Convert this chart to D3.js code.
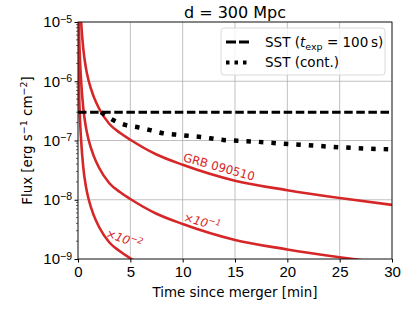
<!DOCTYPE html>
<html>
<head>
<meta charset="utf-8">
<script src="https://cdn.jsdelivr.net/npm/d3@7"></script>
<style>
  body { margin: 0; background: #fff; }
  svg { font-family: "DejaVu Sans", sans-serif; }
</style>
</head>
<body>
<div class="chart"></div>
<script>

// GRB 090510 light curve (time in min, flux in erg/s/cm2)
var grbTime = [0.01, 0.02, 0.05, 0.1, 0.2, 0.3, 0.5, 0.75, 1, 1.5, 2, 3, 4, 5, 7.5, 10, 15, 20, 25, 30];
var grbFlux = [4.5e-3, 1.3e-3, 2.5e-4, 7.2e-5, 2.1e-5, 1.0e-5, 3.6e-6, 1.7e-6, 1.05e-6, 5.5e-7, 3.5e-7,
               1.9e-7, 1.35e-7, 1.03e-7, 5.8e-8, 3.9e-8, 2.1e-8, 1.45e-8, 1.07e-8, 8.2e-9];

// the same burst scaled down, as labelled on the plot
var scaleFactors = [1, 0.1, 0.01];
var curveLabels = ["GRB 090510", "\u00d710", "\u00d710"];
var labelExps = ["", "\u22121", "\u22122"];

// SST sensitivity
var sstExposure = 3e-7;
var sstContTime = [2.2, 3.3, 4.5, 5.8, 6.8, 8.1, 9.3, 10.5, 11.7, 13.6, 15.2, 17.2, 19, 21.2, 25, 28.6, 30];
var sstContFlux = [3.0e-7, 2.24e-7, 1.83e-7, 1.66e-7, 1.51e-7, 1.33e-7, 1.26e-7, 1.2e-7, 1.15e-7,
                   1.03e-7, 9.9e-8, 9.5e-8, 9.0e-8, 8.5e-8, 7.7e-8, 7.2e-8, 7.1e-8];

var xTicks = [0, 5, 10, 15, 20, 25, 30];
var yTickExps = [-9, -8, -7, -6, -5];

var margin = { top: 22, right: 23, bottom: 53, left: 78 };
var width = 415 - margin.left - margin.right;
var height = 312 - margin.top - margin.bottom;

var svg = d3.select(".chart").append("svg")
    .attr("width", 415)
    .attr("height", 312);

var g = svg.append("g")
    .attr("transform", "translate(" + margin.left + "," + margin.top + ")");

var x = d3.scaleLinear().domain([0, 30]).range([0, width]);
var y = d3.scaleLog().domain([1e-9, 1e-5]).range([height, 0]);

// grid
g.selectAll(".xgrid").data(xTicks).enter().append("line")
    .attr("x1", function(d) { return x(d); })
    .attr("x2", function(d) { return x(d); })
    .attr("y1", 0).attr("y2", height)
    .attr("stroke", "#b0b0b0").attr("stroke-width", 0.8);

g.selectAll(".ygrid").data(yTickExps).enter().append("line")
    .attr("x1", 0).attr("x2", width)
    .attr("y1", function(d) { return y(Math.pow(10, d)); })
    .attr("y2", function(d) { return y(Math.pow(10, d)); })
    .attr("stroke", "#b0b0b0").attr("stroke-width", 0.8);

// clip
svg.append("clipPath").attr("id", "clip")
    .append("rect").attr("width", width).attr("height", height);

var plot = g.append("g").attr("clip-path", "url(#clip)");

var line = d3.line()
    .x(function(d) { return x(d[0]); })
    .y(function(d) { return y(d[1]); })
    .curve(d3.curveMonotoneX);

scaleFactors.forEach(function(s) {
    var pts = grbTime.map(function(t, i) { return [t, grbFlux[i] * s]; });
    plot.append("path")
        .attr("d", line(pts))
        .attr("fill", "none")
        .attr("stroke", "#d62728")
        .attr("stroke-width", 2.6);
});

plot.append("line")
    .attr("x1", x(0)).attr("x2", x(30))
    .attr("y1", y(sstExposure)).attr("y2", y(sstExposure))
    .attr("stroke", "#000").attr("stroke-width", 3.2)
    .attr("stroke-dasharray", "8.5,3.6");

plot.append("path")
    .attr("d", line(sstContTime.map(function(t, i) { return [t, sstContFlux[i]]; })))
    .attr("fill", "none")
    .attr("stroke", "#000").attr("stroke-width", 4.5)
    .attr("stroke-dasharray", "4.5,8");

// curve labels
var labelPos = [[219, 167, 15.5], [202, 222, 16], [124, 239, 20]];
labelPos.forEach(function(p, i) {
    var t = svg.append("text")
        .attr("transform", "translate(" + p[0] + "," + p[1] + ") rotate(" + p[2] + ")")
        .attr("text-anchor", "middle")
        .attr("dominant-baseline", "central")
        .attr("fill", "#d62728")
        .style("font-size", "11.7px")
        .style("font-style", i > 0 ? "italic" : "normal")
        .text(curveLabels[i]);
    if (labelExps[i]) {
        t.append("tspan").attr("dy", -4).style("font-size", "8.5px").text(labelExps[i]);
    }
});

// axes
var xAxis = d3.axisBottom(x).tickValues(xTicks).tickSize(3.5).tickPadding(3.5);
var xg = g.append("g").attr("transform", "translate(0," + height + ")").call(xAxis);
xg.selectAll("text").style("font-size", "15px").attr("fill", "#000");

var yAxis = d3.axisLeft(y).tickValues(yTickExps.map(function(e) { return Math.pow(10, e); }))
    .tickSize(3.5).tickPadding(3).tickFormat("");
var yg = g.append("g").call(yAxis);

yg.selectAll(".tick").each(function(d) {
    var t = d3.select(this).append("text")
        .attr("x", -6).attr("dy", "0.32em")
        .attr("text-anchor", "end")
        .attr("fill", "#000")
        .style("font-size", "15px");
    t.append("tspan").text("10");
    t.append("tspan").attr("dy", "-0.45em").style("font-size", "10.5px")
        .text("\u2212" + Math.round(-Math.log10(d)));
});

// minor ticks
var minor = [];
for (var e = -9; e < -5; e++) {
    for (var m = 2; m < 10; m++) minor.push(m * Math.pow(10, e));
}
g.selectAll(".minor").data(minor).enter().append("line")
    .attr("x1", -2).attr("x2", 0)
    .attr("y1", function(d) { return y(d); })
    .attr("y2", function(d) { return y(d); })
    .attr("stroke", "#000").attr("stroke-width", 0.6);

g.selectAll(".domain").remove();
g.append("rect")
    .attr("width", width).attr("height", height)
    .attr("fill", "none").attr("stroke", "#000").attr("stroke-width", 0.8);

// labels
svg.append("text")
    .attr("x", margin.left + width / 2).attr("y", 17.5)
    .attr("text-anchor", "middle")
    .style("font-size", "16px")
    .text("d = 300 Mpc");

svg.append("text")
    .attr("x", margin.left + width / 2).attr("y", 297)
    .attr("text-anchor", "middle")
    .style("font-size", "13.4px")
    .text("Time since merger [min]");

var yl = svg.append("text")
    .attr("transform", "translate(32," + (margin.top + height / 2) + ") rotate(-90)")
    .attr("text-anchor", "middle")
    .style("font-size", "13.4px");
yl.append("tspan").text("Flux [erg s");
yl.append("tspan").attr("dy", -5).style("font-size", "9.5px").text("\u22121");
yl.append("tspan").attr("dy", 5).text(" cm");
yl.append("tspan").attr("dy", -5).style("font-size", "9.5px").text("\u22122");
yl.append("tspan").attr("dy", 5).text("]");

// legend
var leg = svg.append("g").attr("transform", "translate(221,28)");
leg.append("rect")
    .attr("width", 164).attr("height", 47).attr("rx", 3)
    .attr("fill", "#fff").attr("fill-opacity", 0.8)
    .attr("stroke", "#d0d0d0").attr("stroke-width", 0.8);

leg.append("line")
    .attr("x1", 5).attr("x2", 28).attr("y1", 14).attr("y2", 14)
    .attr("stroke", "#000").attr("stroke-width", 3.2)
    .attr("stroke-dasharray", "10,3");
leg.append("line")
    .attr("x1", 5).attr("x2", 28).attr("y1", 34.5).attr("y2", 34.5)
    .attr("stroke", "#000").attr("stroke-width", 4)
    .attr("stroke-dasharray", "3.5,5");

var l1 = leg.append("text").attr("x", 44).attr("y", 18.7).style("font-size", "13.5px");
l1.append("tspan").text("SST (");
l1.append("tspan").style("font-style", "italic").text("t");
l1.append("tspan").attr("dy", 3).style("font-size", "9.5px").text("exp");
l1.append("tspan").attr("dy", -3).text(" = 100\u2009s)");

leg.append("text").attr("x", 44).attr("y", 39).style("font-size", "13.5px").text("SST (cont.)");

</script>
</body>
</html>
